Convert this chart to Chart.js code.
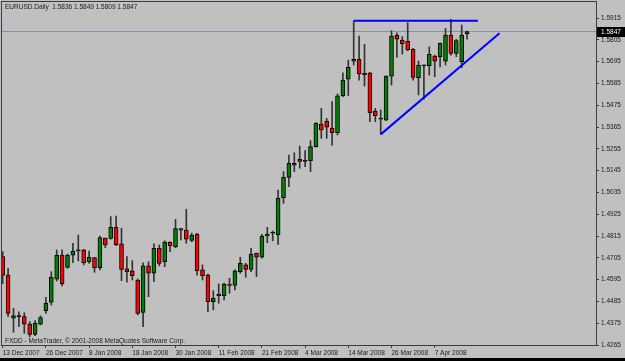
<!DOCTYPE html>
<html>
<head>
<meta charset="utf-8">
<script src="https://cdn.jsdelivr.net/npm/chart.js@4.4.1/dist/chart.umd.min.js"></script>
<style>
  html, body { margin: 0; padding: 0; background: #000; }
  #wrap { position: relative; width: 625px; height: 358px; background: #c0c0c0; }
</style>
</head>
<body>
<div id="wrap"><canvas id="chart"></canvas></div>
<script>
// EURUSD daily bars, 13 Dec 2007 .. 15 Apr 2008 (index = bar number)
const open  = [1.4711,1.4618,1.4400,1.4408,1.4408,1.4370,1.4319,1.4370,1.4438,1.4481,
               1.4597,1.4719,1.4657,1.4718,1.4740,1.4745,1.4685,1.4706,1.4655,1.4804,
               1.4803,1.4859,1.4775,1.4649,1.4639,1.4593,1.4430,1.4664,1.4627,1.4753,
               1.4685,1.4785,1.4761,1.4852,1.4845,1.4793,1.4825,1.4644,1.4618,1.4484,
               1.4521,1.4514,1.4573,1.4566,1.4635,1.4669,1.4647,1.4728,1.4708,1.4815,
               1.4829,1.4820,1.5008,1.5111,1.5182,1.5202,1.5192,1.5195,1.5266,1.5380,
               1.5395,1.5360,1.5336,1.5523,1.5606,1.5697,1.5707,1.5636,1.5639,1.5446,
               1.5405,1.5400,1.5622,1.5828,1.5804,1.5797,1.5757,1.5614,1.5674,1.5674,
               1.5723,1.5720,1.5698,1.5829,1.5737,1.5695,1.5836];
const high  = [1.4736,1.4652,1.4450,1.4433,1.4428,1.4383,1.4388,1.4412,1.4506,1.4635,
               1.4745,1.4745,1.4724,1.4778,1.4820,1.4747,1.4739,1.4707,1.4815,1.4805,
               1.4913,1.4916,1.4854,1.4711,1.4691,1.4598,1.4680,1.4685,1.4775,1.4770,
               1.4791,1.4786,1.4899,1.4854,1.4950,1.4830,1.4828,1.4669,1.4623,1.4539,
               1.4573,1.4577,1.4602,1.4644,1.4708,1.4677,1.4753,1.4729,1.4824,1.4859,
               1.4840,1.5047,1.5140,1.5224,1.5235,1.5269,1.5246,1.5296,1.5387,1.5459,
               1.5409,1.5493,1.5532,1.5639,1.5703,1.5901,1.5824,1.5782,1.5640,1.5459,
               1.5451,1.5624,1.5851,1.5841,1.5821,1.5891,1.5762,1.5698,1.5678,1.5770,
               1.5728,1.5790,1.5863,1.5908,1.5808,1.5880,1.5849];
const low   = [1.4576,1.4408,1.4329,1.4358,1.4324,1.4307,1.4312,1.4366,1.4425,1.4467,
               1.4588,1.4563,1.4652,1.4680,1.4689,1.4669,1.4677,1.4632,1.4644,1.4756,
               1.4799,1.4766,1.4590,1.4582,1.4593,1.4417,1.4358,1.4509,1.4585,1.4664,
               1.4660,1.4736,1.4756,1.4795,1.4778,1.4786,1.4618,1.4593,1.4433,1.4442,
               1.4476,1.4492,1.4526,1.4543,1.4627,1.4607,1.4635,1.4610,1.4703,1.4781,
               1.4791,1.4773,1.4980,1.5064,1.5140,1.5157,1.5165,1.5140,1.5263,1.5308,
               1.5308,1.5274,1.5325,1.5518,1.5523,1.5678,1.5602,1.5572,1.5392,1.5392,
               1.5328,1.5399,1.5577,1.5717,1.5733,1.5750,1.5602,1.5527,1.5505,1.5627,
               1.5619,1.5669,1.5678,1.5728,1.5720,1.5664,1.5809];
const close = [1.4618,1.4425,1.4413,1.4408,1.4370,1.4319,1.4375,1.4403,1.4476,1.4608,
               1.4719,1.4573,1.4718,1.4739,1.4740,1.4680,1.4708,1.4655,1.4807,1.4770,
               1.4859,1.4770,1.4647,1.4635,1.4615,1.4425,1.4664,1.4627,1.4753,1.4677,
               1.4785,1.4765,1.4852,1.4845,1.4799,1.4820,1.4640,1.4615,1.4484,1.4501,
               1.4514,1.4573,1.4566,1.4639,1.4677,1.4647,1.4724,1.4708,1.4815,1.4824,
               1.4829,1.5005,1.5111,1.5182,1.5172,1.5192,1.5192,1.5266,1.5384,1.5350,
               1.5364,1.5336,1.5523,1.5602,1.5666,1.5707,1.5633,1.5629,1.5437,1.5422,
               1.5405,1.5622,1.5824,1.5808,1.5784,1.5754,1.5616,1.5678,1.5674,1.5732,
               1.5698,1.5787,1.5829,1.5737,1.5801,1.5829,1.5847];

// date axis: bar index of each label
const tickBars   = [0, 8, 16, 24, 32, 40, 48, 56, 64, 72, 80];
const dateLabels = ['13 Dec 2007','26 Dec 2007','8 Jan 2008','18 Jan 2008','30 Jan 2008',
                    '11 Feb 2008','21 Feb 2008','4 Mar 2008','14 Mar 2008','26 Mar 2008','7 Apr 2008'];
const priceTicks = [1.4265,1.4375,1.4485,1.4595,1.4705,1.4815,1.4925,1.5035,1.5145,
                    1.5255,1.5365,1.5475,1.5585,1.5695,1.5805,1.5915];

// hand-drawn trend lines (bar index, price)
const resistanceX = [65, 88];
const resistanceY = [1.5901, 1.5901];
const supportX = [70, 92];
const supportY = [1.5328, 1.5838];

const last = close.length - 1;
const FONT = 'Liberation Sans';

const bodyColors = open.map((o, i) => close[i] > o ? '#008000' : (close[i] < o ? '#ff0000' : '#202020'));

const frame = {
    id: 'frame',
    beforeDatasetsDraw(chart) {
        const { ctx, chartArea: a } = chart;
        ctx.save();
        ctx.strokeStyle = '#3c3c3c';
        ctx.lineWidth = 1;
        ctx.strokeRect(a.left - 0.5, a.top - 0.5, a.right - a.left + 1, a.bottom - a.top + 1);
        ctx.restore();
    },
    afterDraw(chart) {
        const { ctx, chartArea: a, scales } = chart;
        ctx.save();
        ctx.font = '6.5px "' + FONT + '"';
        ctx.fillStyle = '#1a1a1a';
        ctx.textBaseline = 'middle';
        ctx.fillText('EURUSD.Daily  ' + [open[last], high[last], low[last], close[last]].map(v => v.toFixed(4)).join(' '), 5, 7);
        ctx.fillText('FXDD - MetaTrader, \u00a9 2001-2008 MetaQuotes Software Corp.', 5, a.bottom - 4);

        // current price box on the price axis
        const y = Math.round(scales.y.getPixelForValue(close[last]));
        ctx.fillStyle = '#000';
        ctx.fillRect(a.right + 1, y - 5, 625 - a.right - 1, 10);
        ctx.fillStyle = '#fff';
        ctx.fillText(close[last].toFixed(4), a.right + 5, y);
        ctx.restore();
    }
};

new Chart(document.getElementById('chart'), {
    type: 'bar',
    data: {
        datasets: [
            {
                type: 'line',
                data: resistanceX.map((x, i) => ({ x, y: resistanceY[i] })),
                borderColor: '#0000ff', borderWidth: 2, pointRadius: 0, order: 0
            },
            {
                type: 'line',
                data: supportX.map((x, i) => ({ x, y: supportY[i] })),
                borderColor: '#0000ff', borderWidth: 2, pointRadius: 0, order: 0
            },
            {
                data: open.map((o, i) => ({ x: i, y: [o, close[i]] })),
                backgroundColor: bodyColors,
                borderColor: '#000',
                borderWidth: 1,
                borderSkipped: false,
                barThickness: 4,
                minBarLength: 1,
                grouped: false,
                order: 1
            },
            {
                data: low.map((l, i) => ({ x: i, y: [l, high[i]] })),
                backgroundColor: '#333333',
                borderWidth: 0,
                barThickness: 1,
                grouped: false,
                order: 2
            },
            {
                type: 'line',
                data: [{ x: -1, y: close[last] }, { x: 120, y: close[last] }],
                borderColor: '#7f93b0', borderWidth: 1, pointRadius: 0, order: 3
            }
        ]
    },
    options: {
        animation: false,
        responsive: true,
        maintainAspectRatio: false,
        layout: { autoPadding: false, padding: { left: 2, top: 2, right: 0, bottom: 0 } },
        plugins: { legend: { display: false }, tooltip: { enabled: false } },
        scales: {
            x: {
                type: 'linear',
                min: -0.13,
                max: 109.87,
                offset: false,
                grid: { offset: false, drawOnChartArea: false, tickLength: 3, color: '#3c3c3c' },
                border: { display: true, color: '#3c3c3c' },
                ticks: {
                    autoSkip: false, maxRotation: 0, align: 'start', padding: 1,
                    color: '#1a1a1a', font: { family: FONT, size: 6.5 },
                    callback: v => dateLabels[tickBars.indexOf(v)]
                },
                afterBuildTicks: s => { s.ticks = tickBars.map(v => ({ value: v })); },
                afterFit: s => { s.height = 13; s.paddingLeft = 0; s.paddingRight = 0; }
            },
            y: {
                position: 'right',
                min: 1.4265,
                max: 1.5996,
                grid: { drawOnChartArea: false, tickLength: 3, color: '#3c3c3c' },
                border: { display: true, color: '#3c3c3c' },
                ticks: {
                    padding: 2, color: '#1a1a1a', font: { family: FONT, size: 6.5 },
                    callback: v => v.toFixed(4)
                },
                afterBuildTicks: s => { s.ticks = priceTicks.map(v => ({ value: v })); },
                afterFit: s => { s.width = 29; s.paddingTop = 0; s.paddingBottom = 0; }
            }
        }
    },
    plugins: [frame]
});
</script>
</body>
</html>
